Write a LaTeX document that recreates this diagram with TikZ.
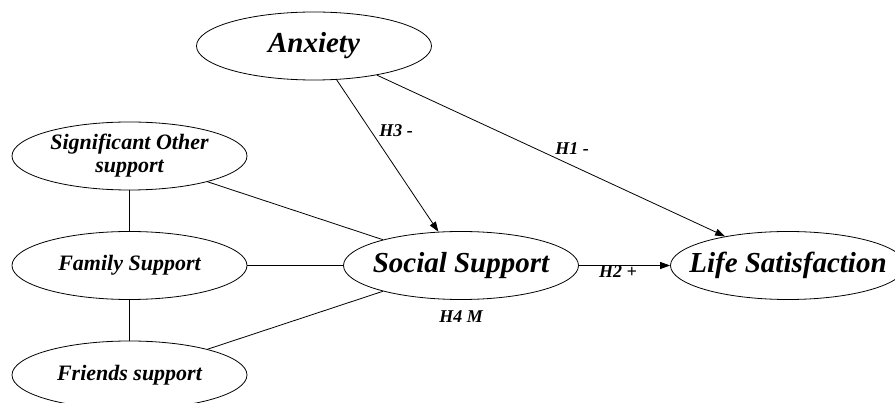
\documentclass[tikz,border=0pt]{standalone}
\usepackage{fontspec}
\setmainfont{Liberation Serif}
\usetikzlibrary{shapes.geometric,arrows.meta}
\tikzset{
  construct/.style={draw, ellipse, inner sep=0pt, line width=0.8pt,
    minimum width=235pt, minimum height=68pt,
    font=\fontsize{29}{33}\selectfont\bfseries\itshape},
  dimbox/.style={draw, ellipse, inner sep=0pt, line width=0.8pt,
    minimum width=235pt, minimum height=68pt,
    font=\fontsize{22}{24}\selectfont\bfseries\itshape},
  hyp/.style={inner sep=0pt, font=\fontsize{18}{20}\selectfont\bfseries\itshape},
  conn/.style={line width=0.8pt},
  path/.style={line width=0.8pt, -{Triangle[length=10pt,width=7pt]}}
}
\begin{document}
\begin{tikzpicture}[x=1pt,y=-1pt]
\useasboundingbox (0,0) rectangle (895,403);
\node[construct] (anx) at (314,46) {\makebox[0pt]{Anxiety}};
\node[dimbox] (sig) at (129.5,156) {\makebox[0pt]{\begin{tabular}{@{}c@{}}Significant Other\\[-1pt] support\end{tabular}}};
\node[dimbox] (fam) at (129.5,265.5) {\makebox[0pt]{Family Support}};
\node[dimbox] (fri) at (129.5,375) {\makebox[0pt]{Friends support}};
\node[construct] (soc) at (461,265.5) {\makebox[0pt]{Social Support}};
\node[construct] (life) at (788,265.5) {\makebox[0pt]{Life Satisfaction}};

\draw[conn] (sig) -- (fam);
\draw[conn] (fam) -- (fri);
\draw[conn] (sig) -- (soc);
\draw[conn] (fam) -- (soc);
\draw[conn] (fri) -- (soc);
\draw[path] (anx) -- (soc);
\draw[path] (anx) -- (life);
\draw[path] (soc) -- (life);

\node[hyp] (h3) at (396,131) {H3 -};
\node[hyp] (h1) at (572,149) {H1 -};
\node[hyp] (h2) at (618,272) {H2 +};
\node[hyp] (h4) at (461,317) {H4 M};
\end{tikzpicture}
\end{document}
